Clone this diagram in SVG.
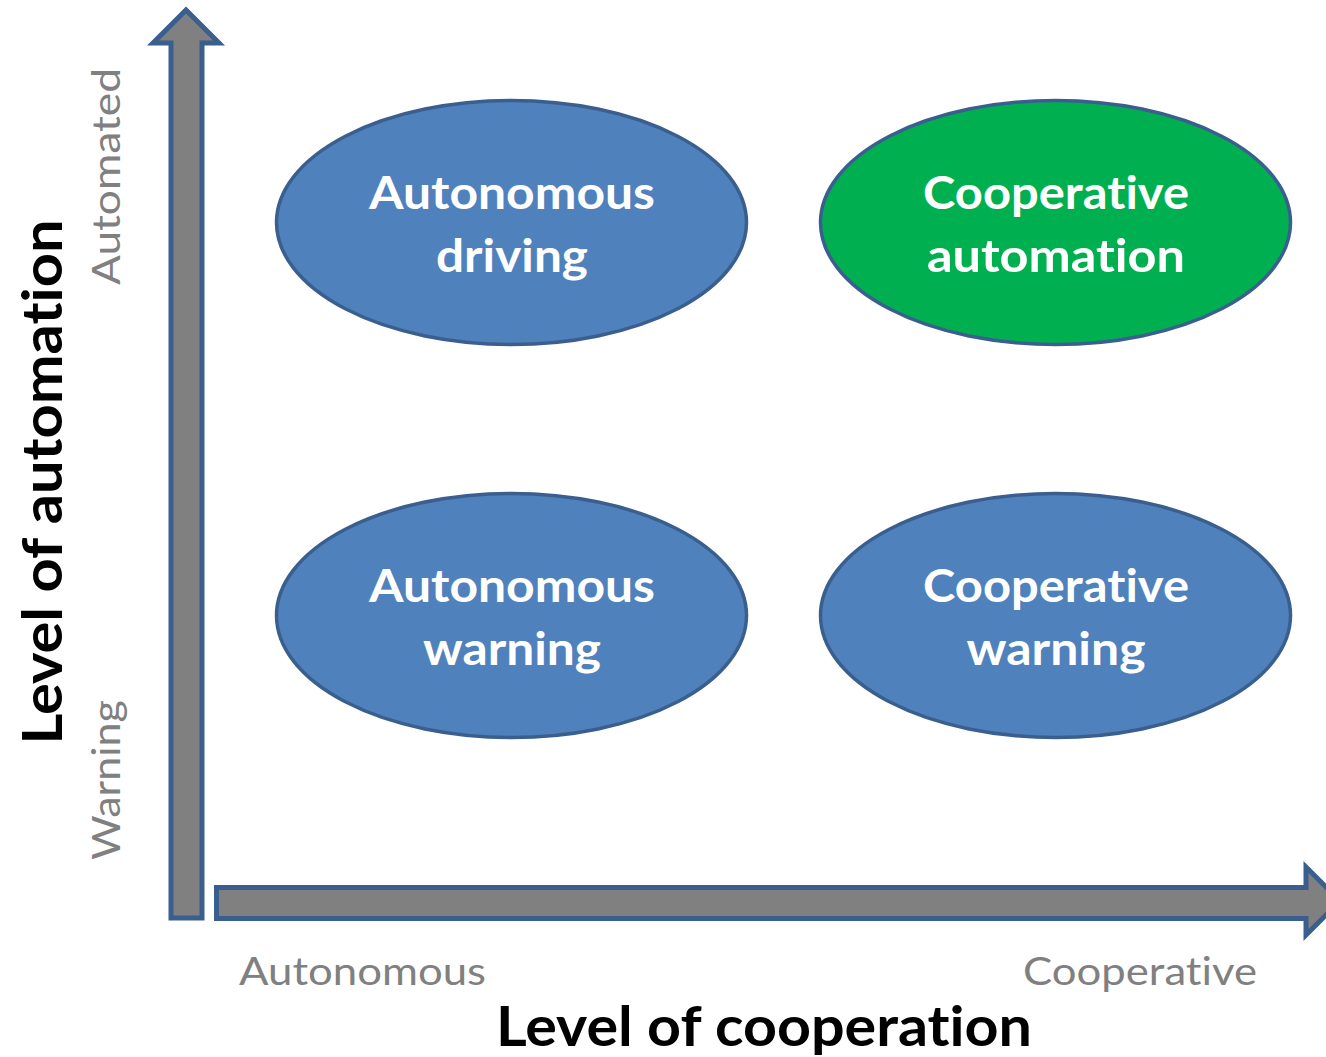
<svg xmlns="http://www.w3.org/2000/svg" width="1326" height="1057" viewBox="0 0 1326 1057">
<style>
text{font-variant-ligatures:none;font-feature-settings:"liga" 0,"clig" 0,"dlig" 0}
.node{stroke:#3A5F8E;stroke-width:3.5}
.blue{fill:#4F81BD}
.green{fill:#00B050}
.nt{font-family:Lato,"Open Sans","Liberation Sans",sans-serif;font-weight:bold;font-size:46px;fill:#FFFFFF;text-anchor:middle}
.ax{fill:#808080;stroke:#3A5F8E;stroke-width:5;stroke-linejoin:miter}
.lab{font-family:Lato,"Open Sans","Liberation Sans",sans-serif;font-size:38px;fill:#808080}
.title{font-family:Lato,"Open Sans","Liberation Sans",sans-serif;font-weight:bold;font-size:56px;fill:#000000;text-anchor:middle}
</style>
<rect width="1326" height="1057" fill="#FFFFFF"/>
<g id="connectors">
<path class="ax" d="M171,918 V43 H153 L186,10 L219,43 H202 V918 Z"/>
<path class="ax" d="M216.5,887.5 H1306 V867 L1340,901 L1306,935 V918.5 H216.5 Z"/>
</g>
<g id="autonomous-driving">
<ellipse class="node blue" cx="511.5" cy="222.5" rx="235" ry="122"/>
<text class="nt" x="512" y="209" textLength="286" lengthAdjust="spacingAndGlyphs">Autonomous</text>
<text class="nt" x="512" y="272" textLength="152" lengthAdjust="spacingAndGlyphs">driving</text>
</g>
<g id="cooperative-automation">
<ellipse class="node green" cx="1055.5" cy="222.5" rx="235" ry="122"/>
<text class="nt" x="1056" y="209" textLength="266" lengthAdjust="spacingAndGlyphs">Cooperative</text>
<text class="nt" x="1056" y="272" textLength="258" lengthAdjust="spacingAndGlyphs">automation</text>
</g>
<g id="autonomous-warning">
<ellipse class="node blue" cx="511.5" cy="615.5" rx="235" ry="122"/>
<text class="nt" x="512" y="602" textLength="286" lengthAdjust="spacingAndGlyphs">Autonomous</text>
<text class="nt" x="512" y="665" textLength="178" lengthAdjust="spacingAndGlyphs">warning</text>
</g>
<g id="cooperative-warning">
<ellipse class="node blue" cx="1055.5" cy="615.5" rx="235" ry="122"/>
<text class="nt" x="1056" y="602" textLength="266" lengthAdjust="spacingAndGlyphs">Cooperative</text>
<text class="nt" x="1056" y="665" textLength="179" lengthAdjust="spacingAndGlyphs">warning</text>
</g>
<g id="labels">
<text class="lab" x="239" y="985" textLength="247" lengthAdjust="spacingAndGlyphs">Autonomous</text>
<text class="lab" x="1023" y="985" textLength="234" lengthAdjust="spacingAndGlyphs">Cooperative</text>
<text class="lab" transform="translate(120,285) rotate(-90)" x="0" y="0" textLength="217" lengthAdjust="spacingAndGlyphs">Automated</text>
<text class="lab" transform="translate(120,860) rotate(-90)" x="0" y="0" textLength="160" lengthAdjust="spacingAndGlyphs">Warning</text>
<text class="title" x="764" y="1046" textLength="536" lengthAdjust="spacingAndGlyphs">Level of cooperation</text>
<text class="title" transform="translate(62,482) rotate(-90)" x="0" y="0" textLength="525" lengthAdjust="spacingAndGlyphs">Level of automation</text>
</g>
</svg>
